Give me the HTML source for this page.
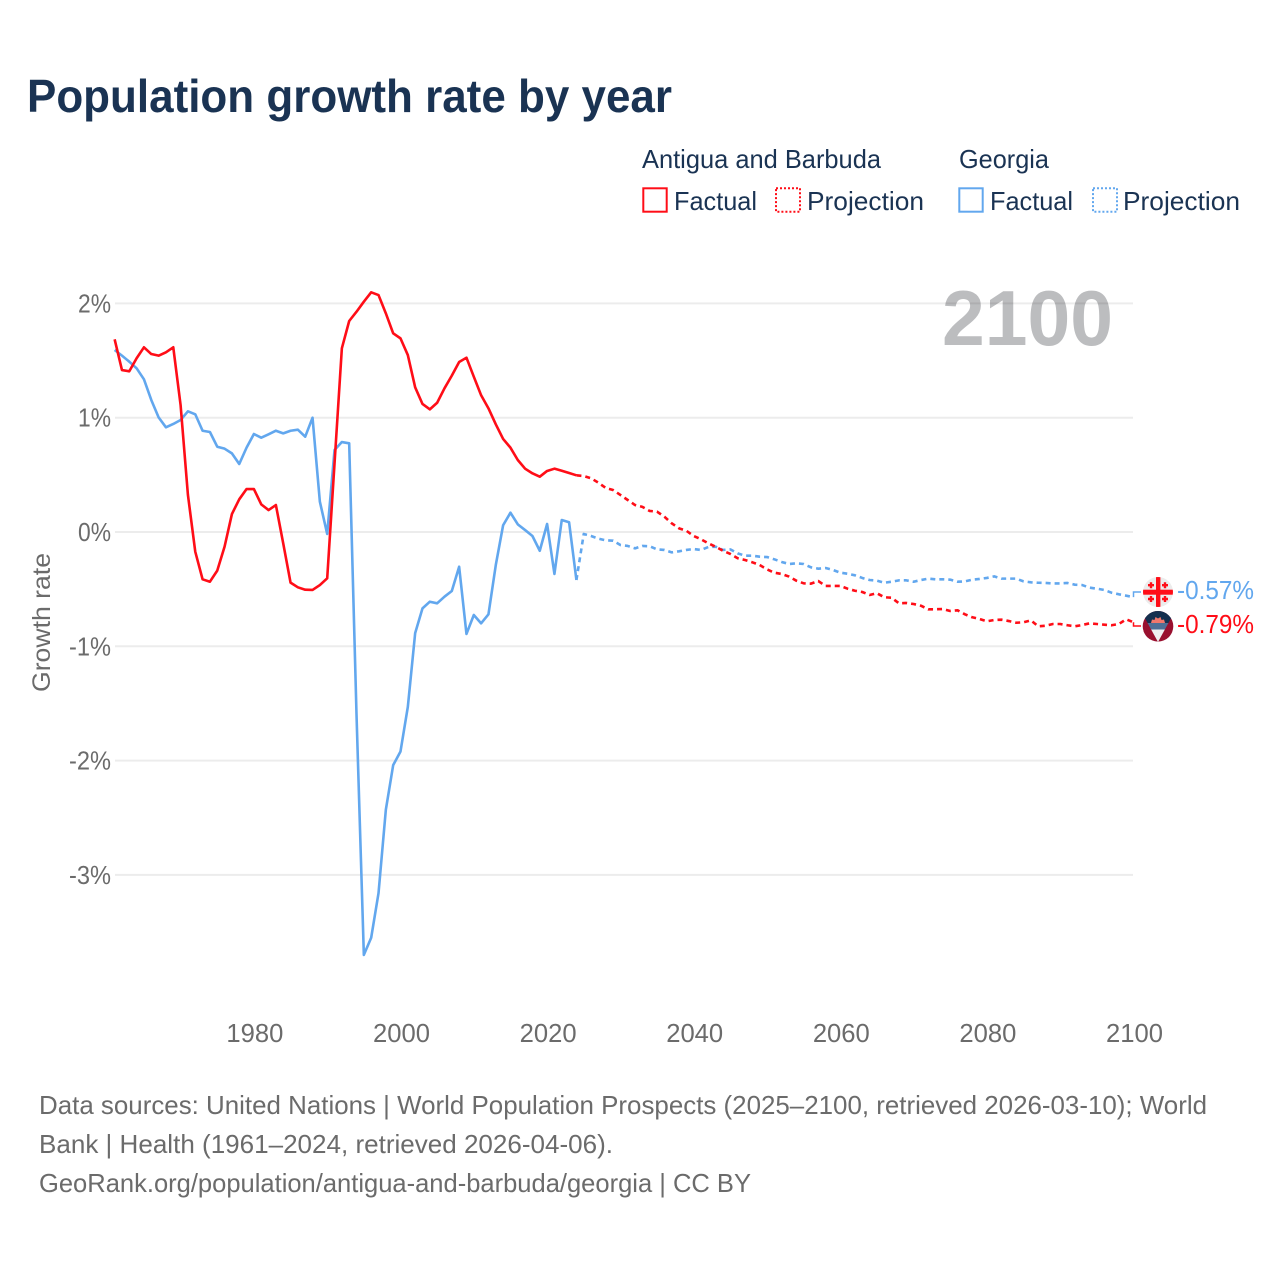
<!DOCTYPE html>
<html lang="en">
<head>
<meta charset="utf-8">
<title>Population growth rate by year</title>
<style>
html,body{margin:0;padding:0;background:#fff;}
svg{display:block;}
text{font-family:"Liberation Sans",sans-serif;}
</style>
</head>
<body>
<svg id="chart" width="1280" height="1280" viewBox="0 0 1280 1280" xmlns="http://www.w3.org/2000/svg">
  <defs>
    <clipPath id="flag-ge-clip"><circle cx="1158" cy="592" r="15"/></clipPath>
    <clipPath id="flag-ag-clip"><circle cx="1158" cy="626.3" r="15.3"/></clipPath>
    <clipPath id="flag-ag-tri"><polygon points="1141,611 1175,611 1158,642"/></clipPath>
  </defs>
  <rect width="1280" height="1280" fill="#ffffff"/>
  <text x="27" y="112" font-size="46" font-weight="700" fill="#1a3353" textLength="645" lengthAdjust="spacingAndGlyphs">Population growth rate by year</text>

  <g font-size="25.6" fill="#1a3353">
    <text x="642" y="168" textLength="239" lengthAdjust="spacingAndGlyphs">Antigua and Barbuda</text>
    <rect x="643.3" y="188.3" width="23.4" height="23.4" fill="none" stroke="#ff0d17" stroke-width="2"/>
    <text x="674" y="210" textLength="83" lengthAdjust="spacingAndGlyphs">Factual</text>
    <rect x="776" y="188.3" width="24" height="23.4" fill="none" stroke="#ff0d17" stroke-width="2" stroke-dasharray="2 2"/>
    <text x="807" y="210" textLength="117" lengthAdjust="spacingAndGlyphs">Projection</text>
    <text x="959" y="168" textLength="90" lengthAdjust="spacingAndGlyphs">Georgia</text>
    <rect x="959.3" y="188.3" width="23.4" height="23.4" fill="none" stroke="#62a7ee" stroke-width="2"/>
    <text x="990" y="210" textLength="83" lengthAdjust="spacingAndGlyphs">Factual</text>
    <rect x="1093" y="188.3" width="24" height="23.4" fill="none" stroke="#62a7ee" stroke-width="2" stroke-dasharray="2 2"/>
    <text x="1123" y="210" textLength="117" lengthAdjust="spacingAndGlyphs">Projection</text>
  </g>

  <text x="942" y="345" font-size="78" font-weight="700" fill="#bcbdbf" textLength="171" lengthAdjust="spacingAndGlyphs">2100</text>

  <g id="grid"></g>
  <g id="y-ticks"></g>
  <g id="x-ticks"></g>

  <text transform="translate(50,622.5) rotate(-90)" text-anchor="middle" font-size="25" fill="#6b6b6b" textLength="139" lengthAdjust="spacingAndGlyphs">Growth rate</text>

  <g id="series"></g>

  <g clip-path="url(#flag-ge-clip)">
    <rect x="1143" y="577" width="30" height="30" fill="#ececec"/>
    <rect x="1156" y="577" width="4.4" height="30" fill="#ff0d17"/>
    <rect x="1143" y="589.7" width="30" height="5" fill="#ff0d17"/>
    <path d="M1151 582.2v6M1148 585.2h6M1165 582.2v6M1162 585.2h6M1151 596v6M1148 599h6M1165 596v6M1162 599h6" stroke="#ff0d17" stroke-width="2.4"/>
  </g>
  <g clip-path="url(#flag-ag-clip)">
    <rect x="1142" y="611" width="32" height="31" fill="#99102f"/>
    <g clip-path="url(#flag-ag-tri)">
      <rect x="1141" y="611" width="34" height="12" fill="#14304f"/>
      <rect x="1141" y="623" width="34" height="6.5" fill="#4f6f97"/>
      <rect x="1141" y="629.5" width="34" height="13" fill="#efeff1"/>
    </g>
    <polygon points="1151,623 1152,619.5 1154.5,620 1155.5,617 1158,618.5 1160.5,617 1161.5,620 1164,619.5 1165,623" fill="#f2776c"/>
  </g>

  <g id="end-labels" font-size="25.6">
    <text x="1177" y="599" fill="#62a7ee" textLength="77" lengthAdjust="spacingAndGlyphs">-0.57%</text>
    <text x="1177" y="633" fill="#ff0d17" textLength="77" lengthAdjust="spacingAndGlyphs">-0.79%</text>
  </g>

  <g font-size="25.6" fill="#6b6b6b">
    <text x="39" y="1114" textLength="1168" lengthAdjust="spacingAndGlyphs">Data sources: United Nations | World Population Prospects (2025–2100, retrieved 2026-03-10); World</text>
    <text x="39" y="1153" textLength="574" lengthAdjust="spacingAndGlyphs">Bank | Health (1961–2024, retrieved 2026-04-06).</text>
    <text x="39" y="1192" textLength="712" lengthAdjust="spacingAndGlyphs">GeoRank.org/population/antigua-and-barbuda/georgia | CC BY</text>
  </g>
</svg>
<script>
const xTickYears = [1980, 2000, 2020, 2040, 2060, 2080, 2100];
const yTickValues = [2, 1, 0, -1, -2, -3];
const factualStartYear = 1961;
const projectionStartYear = 2024;
const antiguaFactual = [1.686,1.417,1.406,1.52,1.616,1.557,1.543,1.572,1.616,1.11,0.324,-0.172,-0.414,-0.435,-0.338,-0.128,0.157,0.286,0.376,0.376,0.242,0.192,0.236,-0.099,-0.443,-0.484,-0.505,-0.507,-0.464,-0.405,0.6,1.607,1.846,1.927,2.015,2.097,2.073,1.913,1.738,1.694,1.548,1.266,1.12,1.073,1.131,1.257,1.368,1.487,1.525,1.359,1.196,1.082,0.942,0.814,0.738,0.63,0.554,0.513,0.484,0.534,0.554,0.536,0.516,0.496];
const georgiaFactual = [1.592,1.543,1.49,1.432,1.336,1.155,1.003,0.916,0.945,0.98,1.056,1.03,0.886,0.875,0.746,0.729,0.688,0.595,0.738,0.857,0.825,0.855,0.886,0.863,0.886,0.895,0.834,1.0,0.265,-0.017,0.717,0.787,0.776,-1.6,-3.7,-3.55,-3.16,-2.43,-2.04,-1.92,-1.53,-0.885,-0.668,-0.61,-0.624,-0.566,-0.516,-0.304,-0.892,-0.726,-0.799,-0.72,-0.289,0.059,0.169,0.067,0.017,-0.035,-0.164,0.07,-0.367,0.105,0.085,-0.42];
const antiguaProjection = [0.496,0.49,0.47,0.431,0.385,0.367,0.324,0.28,0.236,0.22,0.184,0.178,0.134,0.076,0.032,0.011,-0.035,-0.064,-0.099,-0.129,-0.164,-0.192,-0.23,-0.245,-0.265,-0.289,-0.327,-0.356,-0.367,-0.39,-0.426,-0.449,-0.452,-0.429,-0.472,-0.472,-0.472,-0.496,-0.514,-0.525,-0.551,-0.536,-0.571,-0.575,-0.624,-0.621,-0.63,-0.645,-0.676,-0.676,-0.674,-0.691,-0.685,-0.72,-0.746,-0.761,-0.781,-0.77,-0.767,-0.779,-0.794,-0.79,-0.773,-0.825,-0.82,-0.805,-0.805,-0.816,-0.825,-0.814,-0.799,-0.805,-0.811,-0.816,-0.805,-0.764,-0.79];
const georgiaProjection = [-0.42,-0.017,-0.035,-0.058,-0.073,-0.076,-0.114,-0.122,-0.143,-0.122,-0.125,-0.152,-0.157,-0.178,-0.169,-0.157,-0.149,-0.157,-0.131,-0.129,-0.157,-0.152,-0.187,-0.207,-0.207,-0.216,-0.219,-0.239,-0.262,-0.28,-0.274,-0.28,-0.309,-0.321,-0.315,-0.332,-0.356,-0.365,-0.379,-0.402,-0.42,-0.426,-0.444,-0.435,-0.423,-0.423,-0.435,-0.42,-0.408,-0.414,-0.414,-0.417,-0.435,-0.432,-0.417,-0.411,-0.402,-0.388,-0.408,-0.408,-0.408,-0.432,-0.44,-0.444,-0.446,-0.45,-0.45,-0.446,-0.461,-0.464,-0.487,-0.496,-0.507,-0.531,-0.545,-0.557,-0.57];

const RED = '#ff0d17';
const BLUE = '#62a7ee';
const SVGNS = 'http://www.w3.org/2000/svg';

function xScale(year) { return 253.9 + (year - 1980) * 7.33; }
function yScale(value) { return 532 - value * 114.3; }

function make(tag, attrs, parent) {
  const el = document.createElementNS(SVGNS, tag);
  for (const k in attrs) el.setAttribute(k, attrs[k]);
  parent.appendChild(el);
  return el;
}

const gridG = document.getElementById('grid');
const yG = document.getElementById('y-ticks');
const xG = document.getElementById('x-ticks');
const seriesG = document.getElementById('series');

yTickValues.forEach(function (v) {
  const line = make('line', {x1: 115, x2: 1133, y1: yScale(v), y2: yScale(v), stroke: 'rgba(0,0,0,0.075)', 'stroke-width': 2}, gridG);
  
  
  const label = make('text', {x: 111, y: yScale(v) + 9, 'text-anchor': 'end', 'font-size': 25.6, fill: '#6b6b6b', textLength: v < 0 ? 42 : 33, lengthAdjust: 'spacingAndGlyphs'}, yG);
  label.textContent = v + '%';
  
  
});

xTickYears.forEach(function (yr) {
  const label = make('text', {x: xScale(yr) + 1, y: 1042, 'text-anchor': 'middle', 'font-size': 25.6, fill: '#6b6b6b'}, xG);
  label.textContent = yr;
  
  
});

function linePath(values, startYear) {
  return values.map(function (v, i) {
    return (i ? 'L' : 'M') + xScale(startYear + i).toFixed(2) + ' ' + yScale(v).toFixed(2);
  }).join(' ');
}

function drawLine(values, startYear, color, dotted) {
  const attrs = {d: linePath(values, startYear), fill: 'none', stroke: color, 'stroke-width': 2.6, 'stroke-linejoin': 'round'};
  if (dotted) attrs['stroke-dasharray'] = '5 4';
  return make('path', attrs, seriesG);
}

const lineGeF = drawLine(georgiaFactual, factualStartYear, BLUE, false);


const lineAgF = drawLine(antiguaFactual, factualStartYear, RED, false);


const lineGeP = drawLine(georgiaProjection, projectionStartYear, BLUE, true);


const lineAgP = drawLine(antiguaProjection, projectionStartYear, RED, true);



const lastYear = projectionStartYear + georgiaProjection.length - 1;
const leaderGe = make('path', {d: 'M' + xScale(lastYear) + ' ' + yScale(georgiaProjection[georgiaProjection.length - 1]) + ' V592 H1141', fill: 'none', stroke: BLUE, 'stroke-width': 1.5}, seriesG);


const leaderAg = make('path', {d: 'M' + xScale(lastYear) + ' ' + yScale(antiguaProjection[antiguaProjection.length - 1]) + ' V626 H1141', fill: 'none', stroke: RED, 'stroke-width': 1.5}, seriesG);


</script>
</body>
</html>
